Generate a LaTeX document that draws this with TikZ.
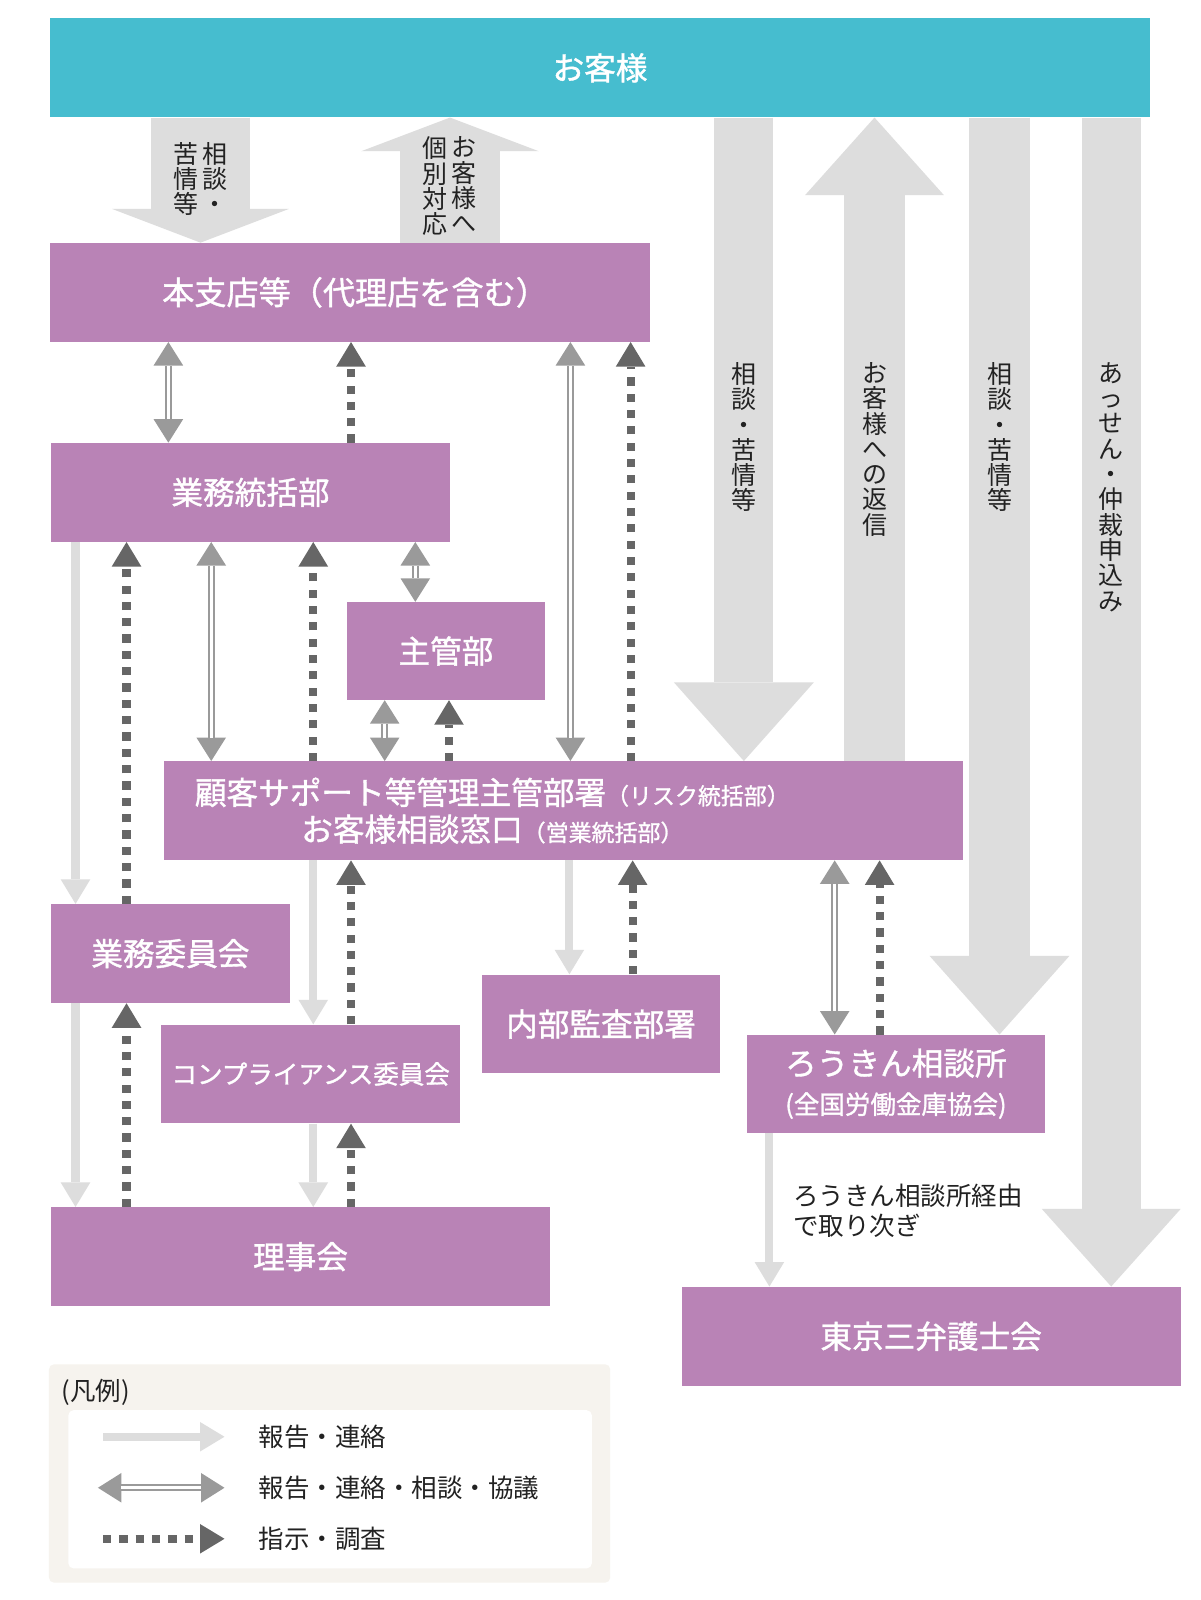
\documentclass[tikz,border=0pt]{standalone}
\usepackage{fontspec}
\setmainfont{Noto Sans CJK JP}
\newfontfamily\boxfont{Noto Sans CJK JP}[FakeBold=1.2]
\usetikzlibrary{arrows.meta}
\definecolor{kyakuCyan}{HTML}{46BDCF}
\definecolor{boxPurple}{HTML}{B983B6}
\definecolor{lightGray}{HTML}{DDDDDD}
\definecolor{midGray}{HTML}{9A9A9A}
\definecolor{darkGray}{HTML}{666666}
\definecolor{legendBg}{HTML}{F6F3EE}
\definecolor{textBlack}{HTML}{222222}

\begin{document}
\begin{tikzpicture} [
    x=1pt, y=-1pt,
    box/.style={rectangle, fill=boxPurple, text=white, inner sep=0pt, minimum height=97pt, align=center, font=\boxfont\fontsize{31}{38}\selectfont},
    vlabel/.style={anchor=north, inner sep=0pt, align=center, text=textBlack, font=\fontsize{24.5}{24.8}\selectfont},
    plain/.style={inner sep=0pt, text=textBlack, font=\fontsize{25}{29}\selectfont},
    bigarrow/.style={draw=lightGray},
    report/.style={draw=lightGray, line width=8pt, -{Triangle[width=29pt,length=24pt,line width=0pt]}},
    consult/.style={draw=midGray, line width=7pt, {Triangle[width=29pt,length=23pt,line width=0pt]}-{Triangle[width=29pt,length=23pt,line width=0pt]}, postaction={draw=white, line width=3pt, -, shorten <=23pt, shorten >=23pt}},
    order/.style={draw=darkGray, line width=8pt, dash pattern=on 8pt off 8pt, -{Triangle[width=29pt,length=24pt,line width=0pt]}}
]
    \fill[white] (0,0) rectangle (1176,1568);
    \useasboundingbox (0,0) rectangle (1176,1568);

    % お客様
    \node[box, fill=kyakuCyan, minimum width=1078pt] (customer) at (588,66.5) {お客様};

    % 本支店・本部
    \node[box, minimum width=588pt, font=\boxfont\fontsize{31.5}{38}\selectfont] (branch) at (343,286.5) {\hspace*{10pt}本支店等（代理店を含む）};
    \node[box, minimum width=391pt] (gyomu) at (245.5,482.5) {業務統括部};
    \node[box, minimum width=194pt, minimum height=96pt] (shukan) at (437,638) {主管部};
    \node[box, minimum width=783pt, label={[text=white, align=center, inner sep=0pt, xshift=-70pt, font=\boxfont\fontsize{31}{36}\selectfont]center:顧客サポート等管理主管部署{\fontsize{22.5}{25}\selectfont（リスク統括部）}\\お客様相談窓口{\fontsize{22.5}{25}\selectfont（営業統括部）}}] (support) at (552.5,794.5) {};

    % 委員会・理事会・監査
    \node[box, minimum width=234pt] (iinkai) at (167,934.5) {業務委員会};
    \node[box, minimum width=293pt, font=\boxfont\fontsize{25}{30}\selectfont] (comp) at (304.5,1052.5) {コンプライアンス委員会};
    \node[box, minimum width=234pt] (audit) at (589,1003.5) {内部監査部署};
    \node[box, minimum width=489pt] (board) at (294.5,1231.5) {理事会};

    % 外部機関
    \node[box, minimum width=292pt, minimum height=96pt] (rokin) at (878,1062) {ろうきん相談所\\{\fontsize{25}{30}\selectfont (全国労働金庫協会)}};
    \node[box, minimum width=489pt] (bengoshi) at (912.5,1309.5) {東京三弁護士会};

    % お客様との大きな矢印
    \draw[bigarrow, line width=97pt, -{Triangle[width=173pt,length=33pt,line width=0pt]}] (customer.south -| 196.5,0) -- (branch.north -| 196.5,0);
    \draw[bigarrow, line width=98pt, -{Triangle[width=174pt,length=33pt,line width=0pt]}] (branch.north -| 441,0) -- (customer.south -| 441,0);
    \draw[bigarrow, line width=58pt, -{Triangle[width=137pt,length=77pt,line width=0pt]}] (customer.south -| 729,0) -- (support.north -| 729,0);
    \draw[bigarrow, line width=59pt, -{Triangle[width=136pt,length=76pt,line width=0pt]}] (support.north -| 857,0) -- (customer.south -| 857,0);
    \draw[bigarrow, line width=59pt, -{Triangle[width=137pt,length=77pt,line width=0pt]}] (customer.south -| 979.5,0) -- (rokin.north -| 979.5,0);
    \draw[bigarrow, line width=58pt, -{Triangle[width=136pt,length=76pt,line width=0pt]}] (customer.south -| 1089,0) -- (bengoshi.north -| 1089,0);

    \node[vlabel] (lblA1a) at (211,139) {相\\談\\・};
    \node[vlabel] (lblA1b) at (182.5,139) {苦\\情\\等};
    \node[vlabel] (lblA2a) at (455,134) {お\\客\\様\\へ};
    \node[vlabel] (lblA2b) at (426,134) {個\\別\\対\\応};
    \node[vlabel] (lblR1) at (729,355) {相\\談\\・\\苦\\情\\等};
    \node[vlabel] (lblR2) at (857,355) {お\\客\\様\\へ\\の\\返\\信};
    \node[vlabel] (lblR3) at (980,355) {相\\談\\・\\苦\\情\\等};
    \node[vlabel] (lblR4) at (1089,355) {あ\\っ\\せ\\ん\\・\\仲\\裁\\申\\込\\み};

    % 連絡（本支店等・業務統括部・主管部）
    \draw[consult] (gyomu.north -| 165,0) -- (branch.south -| 165,0);
    \draw[order] (gyomu.north -| 344,0) -- (branch.south -| 344,0);
    \draw[consult] (support.north -| 559,0) -- (branch.south -| 559,0);
    \draw[order] (support.north -| 618,0) -- (branch.south -| 618,0);
    \draw[consult] (gyomu.south -| 207,0) -- (support.north -| 207,0);
    \draw[order] (support.north -| 307,0) -- (gyomu.south -| 307,0);
    \draw[consult] (gyomu.south -| 407,0) -- (shukan.north -| 407,0);
    \draw[consult] (shukan.south -| 377,0) -- (support.north -| 377,0);
    \draw[order] (support.north -| 440,0) -- (shukan.south -| 440,0);

    % 連絡（委員会・理事会）
    \draw[report] (gyomu.south -| 74,0) -- (iinkai.north -| 74,0);
    \draw[order] (iinkai.north -| 124,0) -- (gyomu.south -| 124,0);
    \draw[report] (iinkai.south -| 74,0) -- (board.north -| 74,0);
    \draw[order] (board.north -| 124,0) -- (iinkai.south -| 124,0);
    \draw[report] (support.south -| 307,0) -- (comp.north -| 307,0);
    \draw[order] (comp.north -| 344,0) -- (support.south -| 344,0);
    \draw[report] (comp.south -| 307,0) -- (board.north -| 307,0);
    \draw[order] (board.north -| 344,0) -- (comp.south -| 344,0);

    % 連絡（監査・外部機関）
    \draw[report] (support.south -| 558,0) -- (audit.north -| 558,0);
    \draw[order] (audit.north -| 620,0) -- (support.south -| 620,0);
    \draw[consult] (support.south -| 818,0) -- (rokin.north -| 818,0);
    \draw[order] (rokin.north -| 862,0) -- (support.south -| 862,0);
    \draw[report] (rokin.south -| 754,0) -- (bengoshi.north -| 754,0);
    \node[plain, anchor=west, align=left] (viaRokin) at (777,1186.5) {ろうきん相談所経由\\で取り次ぎ};

    % 凡例
    \node[rectangle, rounded corners=5pt, fill=legendBg, minimum width=550pt, minimum height=214pt, inner sep=0pt] (legend) at (323,1444) {};
    \node[rectangle, rounded corners=5pt, fill=white, minimum width=513pt, minimum height=155pt, inner sep=0pt] (legendbody) at (323.5,1459.5) {};
    \node[plain, anchor=west] (legendtitle) at (60,1364) {(凡例)};
    \coordinate (leg1s) at (101,1408);
    \coordinate (leg1e) at (220,1408);
    \coordinate (leg2s) at (96,1458);
    \coordinate (leg2e) at (220,1458);
    \coordinate (leg3s) at (101,1508);
    \coordinate (leg3e) at (220,1508);
    \draw[report] (leg1s) -- (leg1e);
    \draw[consult] (leg2s) -- (leg2e);
    \draw[order] (leg3s) -- (leg3e);
    \node[plain, anchor=west] (leg1txt) at (253.5,1408) {報告・連絡};
    \node[plain, anchor=west] (leg2txt) at (253.5,1458) {報告・連絡・相談・協議};
    \node[plain, anchor=west] (leg3txt) at (253.5,1508) {指示・調査};
\end{tikzpicture}
\end{document}
